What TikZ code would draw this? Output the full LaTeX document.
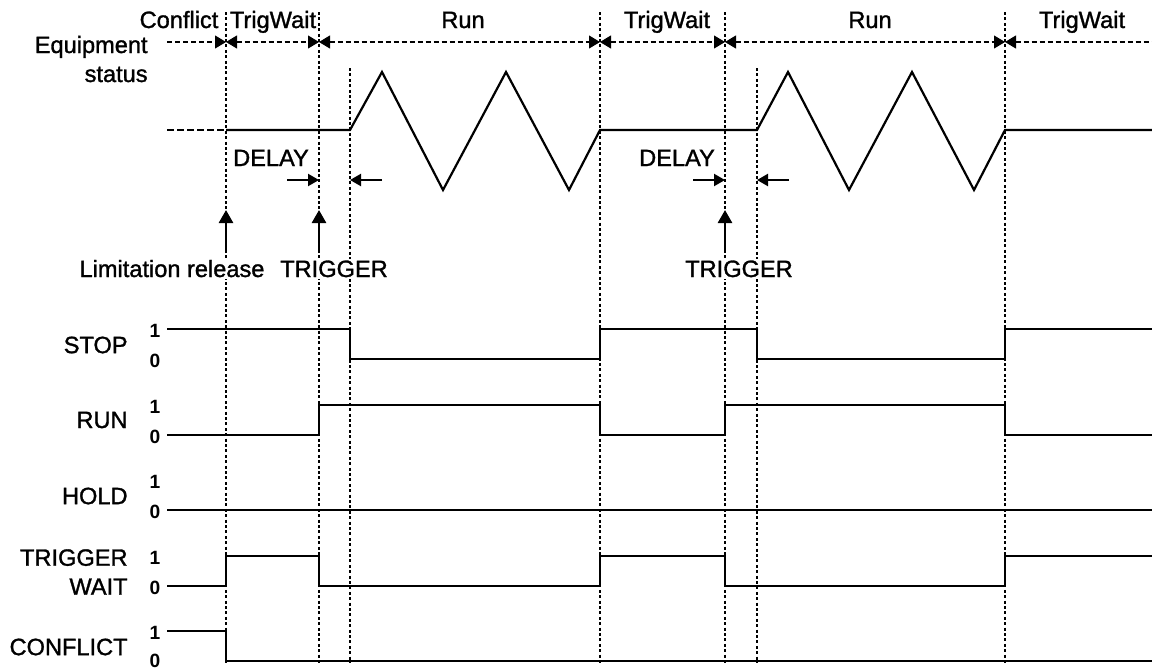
\documentclass[tikz,border=0pt]{standalone}
\usepackage{fontspec}
\setmainfont[FakeBold=1.3]{Liberation Sans}
\newfontfamily\digitfont{Liberation Sans}
\usetikzlibrary{arrows.meta}
\begin{document}
\begin{tikzpicture}[x=0.5pt,y=-0.5pt,
  lbl/.style={font=\fontsize{11.8}{14.5}\selectfont, inner sep=0pt},
  wlbl/.style={lbl, fill=white, inner sep=1pt},
  dig/.style={font=\digitfont\fontsize{9.6}{11}\selectfont\bfseries, inner sep=0pt},
  sig/.style={line width=1.1pt, line join=miter},
  guide/.style={line width=0.55pt, dash pattern=on 1.5pt off 1.2pt},
  hdr/.style={line width=0.55pt, dash pattern=on 2.5pt off 1.5pt},
  hright/.style={hdr, -{Triangle[length=5.5pt,width=6.5pt]}},
  hleft/.style={hdr, {Triangle[length=5.5pt,width=6.5pt]}-},
  hboth/.style={hdr, {Triangle[length=5.5pt,width=6.5pt]}-{Triangle[length=5.5pt,width=6.5pt]}},
  delayarrow/.style={line width=1.1pt, -{Triangle[length=5.5pt,width=6pt]}},
  uparrow/.style={line width=1.3pt, -{Triangle[length=6.5pt,width=7pt]}}
]
\useasboundingbox (0,0) rectangle (1152,670);

% time markers
\coordinate (atop) at (226,12);  \coordinate (abot) at (226,663);
\coordinate (btop) at (319,12);  \coordinate (bbot) at (319,663);
\coordinate (ctop) at (350,68);  \coordinate (cbot) at (350,663);
\coordinate (dtop) at (600,12);  \coordinate (dbot) at (600,663);
\coordinate (etop) at (725,12);  \coordinate (ebot) at (725,663);
\coordinate (ftop) at (757,68);  \coordinate (fbot) at (757,663);
\coordinate (gtop) at (1005,12); \coordinate (gbot) at (1005,663);
\foreach \n in {a,b,c,d,e,f,g} { \draw[guide] (\n top) -- (\n bot); }

% header
\coordinate (h0) at (167,42);
\coordinate (h1) at (226,42);
\coordinate (h2) at (319,42);
\coordinate (h3) at (600,42);
\coordinate (h4) at (725,42);
\coordinate (h5) at (1005,42);
\coordinate (h6) at (1152,42);
\draw[hright] (h0) -- (h1);
\draw[hboth] (h1) -- (h2);
\draw[hboth] (h2) -- (h3);
\draw[hboth] (h3) -- (h4);
\draw[hboth] (h4) -- (h5);
\draw[hleft] (h5) -- (h6);

\node[lbl, anchor=base] (s1) at (179,28) {Conflict};
\node[lbl, anchor=base] (s2) at (273,28) {TrigWait};
\node[lbl, anchor=base] (s3) at (463,28) {Run};
\node[lbl, anchor=base] (s4) at (667,28) {TrigWait};
\node[lbl, anchor=base] (s5) at (870,28) {Run};
\node[lbl, anchor=base] (s6) at (1082,28) {TrigWait};

\node[lbl, anchor=base east] (eq1) at (148,53) {Equipment};
\node[lbl, anchor=base east] (eq2) at (148,82) {status};

% equipment waveform
\draw[sig, dash pattern=on 3.5pt off 1.5pt] (167,130) -- (226,130);
\draw[sig] (226,130) -- (350,130) -- (382,72) -- (443,190) -- (506,72) -- (569,190) -- (600,130)
  -- (757,130) -- (788,72) -- (849,190) -- (912,72) -- (974,190) -- (1005,130) -- (1152,130);

% delay
\node[lbl, anchor=base] (d1) at (271,166) {DELAY};
\node[lbl, anchor=base] (d2) at (677,166) {DELAY};
\coordinate (d1l) at (287,180);
\coordinate (d1r) at (382,180);
\coordinate (d2l) at (693,180);
\coordinate (d2r) at (789,180);
\draw[delayarrow] (d1l) -- (btop |- d1l);
\draw[delayarrow] (d1r) -- (ctop |- d1r);
\draw[delayarrow] (d2l) -- (etop |- d2l);
\draw[delayarrow] (d2r) -- (ftop |- d2r);

% events
\node[wlbl, anchor=base] (lr) at (172,277) {Limitation release};
\node[wlbl, anchor=base] (tr1) at (334,277) {TRIGGER};
\node[wlbl, anchor=base] (tr2) at (739,277) {TRIGGER};
\coordinate (u1) at (226,253);
\coordinate (u2) at (319,253);
\coordinate (u3) at (725,253);
\draw[uparrow] (u1) -- ++(0,-43);
\draw[uparrow] (u2) -- ++(0,-43);
\draw[uparrow] (u3) -- ++(0,-43);

% signal names
\node[lbl, anchor=east] (nstop) at (128,345) {STOP};
\node[lbl, anchor=east] (nrun) at (128,420) {RUN};
\node[lbl, anchor=east] (nhold) at (128,496) {HOLD};
\node[lbl, anchor=east, align=right] (ntw) at (128,572) {TRIGGER\\WAIT};
\node[lbl, anchor=east] (ncf) at (128,647) {CONFLICT};

\foreach \hi/\lo [count=\i] in {329/359,405/435,480/510,556/586,631/659} {
  \node[dig] (one\i) at (155,\hi+2) {1};
  \node[dig] (zero\i) at (155,\lo+2) {0};
}

% signals
\draw[sig] (167,329) -- (350,329) -- (350,359) -- (600,359) -- (600,329) -- (757,329) -- (757,359)
  -- (1005,359) -- (1005,329) -- (1152,329);
\draw[sig] (167,435) -- (319,435) -- (319,405) -- (600,405) -- (600,435) -- (725,435) -- (725,405)
  -- (1005,405) -- (1005,435) -- (1152,435);
\draw[sig] (167,510) -- (1152,510);
\draw[sig] (167,586) -- (226,586) -- (226,556) -- (319,556) -- (319,586) -- (600,586) -- (600,556)
  -- (725,556) -- (725,586) -- (1005,586) -- (1005,556) -- (1152,556);
\draw[sig] (167,631) -- (226,631) -- (226,661) -- (1152,661);
\end{tikzpicture}
\end{document}
